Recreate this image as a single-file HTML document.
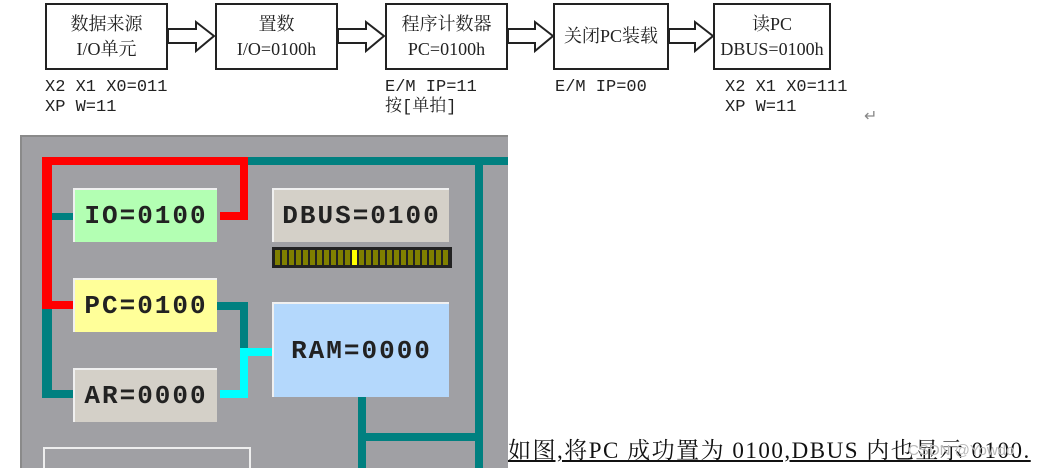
<!DOCTYPE html>
<html><head><meta charset="utf-8"><style>
body{margin:0;width:1049px;height:468px;background:#fff;position:relative;overflow:hidden;font-family:"Liberation Serif","Noto Serif CJK SC",serif}
.b{position:absolute;border:2px solid #222;box-sizing:border-box;top:3px;height:67px;text-align:center;font-size:18px;line-height:25px;color:#222;display:flex;flex-direction:column;justify-content:center}
.l{position:absolute;font-family:"Liberation Mono","Noto Serif CJK SC",monospace;font-size:17px;line-height:20px;color:#222;white-space:pre}
.p{position:absolute}
.r{position:absolute;font-family:"Liberation Mono",monospace;font-weight:bold;font-size:26px;letter-spacing:2px;color:#222;display:flex;align-items:center;justify-content:center;border-top:2px solid #f0f0f0;border-left:2px solid #f0f0f0;box-sizing:border-box}
</style></head><body>
<div class="b" style="left:45px;width:123px">数据来源<br>I/O单元</div>
<div class="b" style="left:215px;width:123px">置数<br>I/O=0100h</div>
<div class="b" style="left:385px;width:123px">程序计数器<br>PC=0100h</div>
<div class="b" style="left:553px;width:116px">关闭PC装载</div>
<div class="b" style="left:713px;width:118px">读PC<br>DBUS=0100h</div>
<svg class="p" style="left:0;top:0" width="1049" height="80">
<g fill="#fff" stroke="#222" stroke-width="2">
<polygon points="168,29 196,29 196,22 214,36 196,51 196,43 168,43"/>
<polygon points="338,29 366,29 366,22 384,36 366,51 366,43 338,43"/>
<polygon points="508,29 535,29 535,22 553,36 535,51 535,43 508,43"/>
<polygon points="669,29 695,29 695,22 713,36 695,51 695,43 669,43"/>
</g></svg>
<div class="l" style="left:45px;top:78px">X2 X1 X0=011
XP W=11</div>
<div class="l" style="left:385px;top:78px">E/M IP=11
按[单拍]</div>
<div class="l" style="left:555px;top:78px">E/M IP=00</div>
<div class="l" style="left:725px;top:78px">X2 X1 X0=111
XP W=11</div>
<div class="p" style="left:864px;top:106px;font-size:16px;color:#888">↵</div>

<div class="p" style="left:20px;top:135px;width:488px;height:333px;background:#a0a0a4;border-top:2px solid #8a8a8a;border-left:2px solid #8a8a8a;box-sizing:border-box"></div>
<svg class="p" style="left:0;top:0" width="1049" height="468">
<g fill="#008080">
<rect x="248" y="157" width="260" height="8"/>
<rect x="475" y="157" width="8" height="311"/>
<rect x="52" y="213" width="21" height="7"/>
<rect x="42" y="308" width="10" height="90"/>
<rect x="42" y="390" width="31" height="8"/>
<rect x="217" y="302" width="31" height="8"/>
<rect x="240" y="302" width="8" height="46"/>
<rect x="358" y="397" width="8" height="71"/>
<rect x="366" y="433" width="109" height="8"/>
</g>
<g fill="#ff0000">
<rect x="42" y="157" width="206" height="8"/>
<rect x="42" y="157" width="10" height="151"/>
<rect x="240" y="157" width="8" height="63"/>
<rect x="220" y="212" width="28" height="8"/>
<rect x="42" y="301" width="31" height="8"/>
</g>
<g fill="#00ffff">
<rect x="240" y="348" width="32" height="8"/>
<rect x="240" y="348" width="8" height="50"/>
<rect x="220" y="390" width="28" height="8"/>
</g>
<rect x="272" y="247" width="180" height="21" fill="#222"/>
<g fill="#808000">
<rect x="275" y="250" width="5" height="15"/><rect x="282" y="250" width="5" height="15"/><rect x="289" y="250" width="5" height="15"/><rect x="296" y="250" width="5" height="15"/><rect x="303" y="250" width="5" height="15"/><rect x="310" y="250" width="5" height="15"/><rect x="317" y="250" width="5" height="15"/><rect x="324" y="250" width="5" height="15"/><rect x="331" y="250" width="5" height="15"/><rect x="338" y="250" width="5" height="15"/><rect x="345" y="250" width="5" height="15"/><rect x="359" y="250" width="5" height="15"/><rect x="366" y="250" width="5" height="15"/><rect x="373" y="250" width="5" height="15"/><rect x="380" y="250" width="5" height="15"/><rect x="387" y="250" width="5" height="15"/><rect x="394" y="250" width="5" height="15"/><rect x="401" y="250" width="5" height="15"/><rect x="408" y="250" width="5" height="15"/><rect x="415" y="250" width="5" height="15"/><rect x="422" y="250" width="5" height="15"/><rect x="429" y="250" width="5" height="15"/><rect x="436" y="250" width="5" height="15"/><rect x="443" y="250" width="5" height="15"/>
</g>
<rect x="352" y="250" width="5" height="15" fill="#ffff00"/>
<rect x="44" y="448" width="206" height="22" fill="none" stroke="#eee" stroke-width="2"/>
</svg>
<div class="r" style="left:73px;top:188px;width:144px;height:54px;background:#b3ffb3">IO=0100</div>
<div class="r" style="left:272px;top:188px;width:177px;height:54px;background:#d4d0c8">DBUS=0100</div>
<div class="r" style="left:73px;top:278px;width:144px;height:54px;background:#ffff99">PC=0100</div>
<div class="r" style="left:73px;top:368px;width:144px;height:54px;background:#d4d0c8">AR=0000</div>
<div class="r" style="left:272px;top:302px;width:177px;height:95px;background:#b4d8fc">RAM=0000</div>
<div class="p" style="left:508px;top:438px;font-size:23px;letter-spacing:1.5px;line-height:26px;color:#111;text-decoration:underline;white-space:nowrap">如图,将PC 成功置为 0100,DBUS 内也显示 0100.</div>
<div class="p" style="left:908px;top:442px;font-size:15px;color:#bbb;font-family:'Liberation Sans',sans-serif">CSDN @Yowdo</div>
</body></html>
